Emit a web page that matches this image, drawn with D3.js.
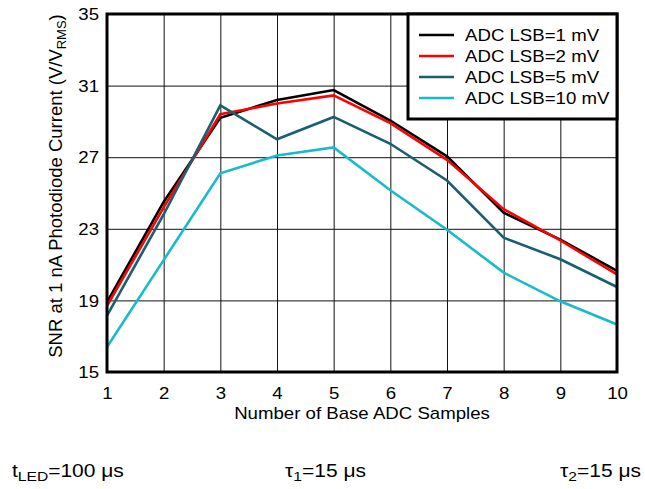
<!DOCTYPE html>
<meta charset="utf-8">
<head>
    <script src="https://d3js.org/d3.v7.min.js"></script>
    <style>
        body { margin: 0; background: #fff; }
        text { font-family: "Liberation Sans", Arial, Helvetica, sans-serif; fill: #000; }
    </style>
</head>
<body>
<div id="graph"></div>
<script>
    // data
    var samples = [1, 2, 3, 4, 5, 6, 7, 8, 9, 10];
    var lsb1  = [18.9, 24.5, 29.2, 30.2, 30.75, 29.05, 27.05, 23.9, 22.4, 20.65];
    var lsb2  = [18.7, 24.2, 29.4, 30.0, 30.45, 28.9, 26.85, 24.1, 22.35, 20.45];
    var lsb5  = [18.15, 23.8, 29.9, 28.0, 29.25, 27.75, 25.7, 22.5, 21.3, 19.75];
    var lsb10 = [16.4, 21.25, 26.1, 27.1, 27.55, 25.15, 22.95, 20.55, 18.95, 17.65];
    var seriesNames = ["ADC LSB=1 mV", "ADC LSB=2 mV", "ADC LSB=5 mV", "ADC LSB=10 mV"];
    var seriesColors = ["#000000", "#ff0000", "#1b5e6f", "#17bbcc"];
    var yTicks = [15, 19, 23, 27, 31, 35];

    var margin = {top: 14, right: 28, bottom: 117, left: 107},
        width = 645 - margin.left - margin.right,
        height = 489 - margin.top - margin.bottom;

    // text in the picture is stretched sideways a little
    var sx = 1.165;

    var svg = d3.select("#graph")
      .append("svg")
        .attr("width", 645)
        .attr("height", 489)
      .append("g")
        .attr("transform", "translate(" + margin.left + "," + margin.top + ")");

    var x = d3.scaleLinear().domain([1, 10]).range([0, width]);
    var y = d3.scaleLinear().domain([15, 35]).range([height, 0]);

    // grid
    svg.append("g")
        .attr("transform", "translate(0," + height + ")")
        .call(d3.axisBottom(x).tickValues(samples).tickSize(-height).tickFormat(""))
        .call(function(g) { g.select(".domain").remove(); })
        .selectAll("line").attr("stroke", "#111").attr("stroke-width", 1);
    svg.append("g")
        .call(d3.axisLeft(y).tickValues(yTicks).tickSize(-width).tickFormat(""))
        .call(function(g) { g.select(".domain").remove(); })
        .selectAll("line").attr("stroke", "#111").attr("stroke-width", 1);

    // x tick labels
    var xAx = svg.append("g")
        .attr("transform", "translate(0," + height + ")")
        .call(d3.axisBottom(x).tickValues(samples).tickSize(0).tickFormat(d3.format("d")));
    xAx.select(".domain").remove();
    xAx.selectAll("text")
        .attr("y", 0).attr("dy", 0)
        .attr("transform", "translate(0,27) scale(" + sx + ",1)")
        .style("font-size", "16px");

    // y tick labels
    var yAx = svg.append("g")
        .call(d3.axisLeft(y).tickValues(yTicks).tickSize(0).tickFormat(d3.format("d")));
    yAx.select(".domain").remove();
    yAx.selectAll("text")
        .attr("x", 0).attr("dy", "0.36em")
        .attr("transform", "translate(-8,0) scale(" + sx + ",1)")
        .style("font-size", "16px");

    // lines
    var line = d3.line()
        .x(function(d, i) { return x(samples[i]); })
        .y(function(d) { return y(d); });
    [lsb1, lsb2, lsb5, lsb10].forEach(function(s, i) {
        svg.append("path")
            .datum(s)
            .attr("fill", "none")
            .attr("stroke", seriesColors[i])
            .attr("stroke-width", 2.6)
            .attr("stroke-linejoin", "miter")
            .attr("d", line);
    });

    // plot frame
    svg.append("rect")
        .attr("width", width).attr("height", height)
        .attr("fill", "none").attr("stroke", "#000").attr("stroke-width", 3);

    // legend
    var lg = svg.append("g").attr("transform", "translate(" + (width - 209) + ",0)");
    lg.append("rect")
        .attr("width", 209).attr("height", 105)
        .attr("fill", "#fff").attr("stroke", "#000").attr("stroke-width", 3);
    seriesNames.forEach(function(n, i) {
        var ly = 21 + i * 21;
        lg.append("line")
            .attr("x1", 11).attr("x2", 46).attr("y1", ly).attr("y2", ly)
            .attr("stroke", seriesColors[i]).attr("stroke-width", 2.6);
        lg.append("text")
            .attr("transform", "translate(57," + (ly + 6) + ") scale(" + sx + ",1)")
            .style("font-size", "16px")
            .text(n);
    });

    // x axis title
    svg.append("text")
        .attr("transform", "translate(" + width / 2 + "," + (height + 47) + ") scale(" + sx + ",1)")
        .attr("text-anchor", "middle")
        .style("font-size", "16px")
        .text("Number of Base ADC Samples");

    // y axis title
    var yl = svg.append("text")
        .attr("transform", "translate(-45,172) rotate(-90)")
        .attr("text-anchor", "middle")
        .style("font-size", "18.5px")
        .text("SNR at 1 nA Photodiode Current (V/V");
    yl.append("tspan").attr("dy", 4).style("font-size", "13px").text("RMS");
    yl.append("tspan").attr("dy", -4).text(")");

    // conditions under the chart
    var root = d3.select("svg");
    function note(xp, anchor, main, sub, rest) {
        var t = root.append("text")
            .attr("transform", "translate(" + xp + ",477) scale(1.2,1)")
            .attr("text-anchor", anchor)
            .style("font-size", "17.5px");
        t.append("tspan").text(main);
        t.append("tspan").attr("dy", 4).style("font-size", "13px").text(sub);
        t.append("tspan").attr("dy", -4).text(rest);
    }
    note(12, "start", "t", "LED", "=100 μs");
    note(285, "start", "τ", "1", "=15 μs");
    note(641, "end", "τ", "2", "=15 μs");
</script>
</body>
